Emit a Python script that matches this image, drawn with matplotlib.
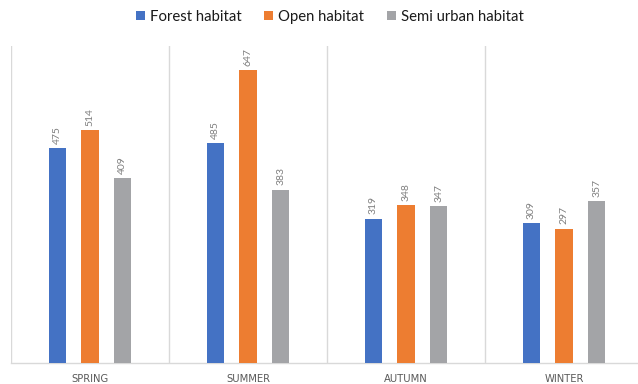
import matplotlib
matplotlib.use("Agg")
import matplotlib.pyplot as plt
from matplotlib.patches import Patch
import numpy as np

seasons = ["SPRING", "SUMMER", "AUTUMN", "WINTER"]
series_names = ["Forest habitat", "Open habitat", "Semi urban habitat"]
forest = [475, 485, 319, 309]
open_hab = [514, 647, 348, 297]
semi_urban = [409, 383, 347, 357]

colors = ["#4472C4", "#ED7D31", "#A3A4A7"]
grid_color = "#D9D9D9"
label_color = "#595959"

plt.rcParams["font.family"] = ["Lato", "DejaVu Sans"]

fig = plt.figure(figsize=(6.38, 3.84), dpi=100)
ax = fig.add_axes([11 / 638, 21 / 384, 632 / 638, 317 / 384])

x = np.arange(len(seasons))
width = 0.108
offsets = [-0.206, 0.0, 0.206]
for vals, off, col in zip([forest, open_hab, semi_urban], offsets, colors):
    bars = ax.bar(x + off, vals, width=width, color=col, zorder=3)
    for b, v in zip(bars, vals):
        ax.text(b.get_x() + b.get_width() / 2, v + 9, f"{v}",
                rotation=90, ha="center", va="bottom",
                fontsize=7.5, color="#7F7F7F")

ax.set_xlim(-0.5, len(seasons) - 0.5)
ax.set_ylim(0, 700)

# category separators
for b in np.arange(-0.5, len(seasons) + 0.5, 1.0):
    ax.axvline(b, color=grid_color, lw=1.0, zorder=1)

for s in ["top", "right", "left"]:
    ax.spines[s].set_visible(False)
ax.spines["bottom"].set_color(grid_color)
ax.spines["bottom"].set_linewidth(1.0)

ax.set_yticks([])
ax.set_xticks(x)
ax.set_xticklabels(seasons, color=label_color,
                   fontdict={"family": ["DejaVu Sans"], "size": 7.2})
ax.tick_params(axis="x", length=0, pad=8)

handles = [Patch(facecolor=c, edgecolor="none") for c in colors]
fig.legend(handles, series_names, loc="center", bbox_to_anchor=(330 / 638, 1 - 17 / 384),
           ncol=3, frameon=False, handlelength=0.6, handleheight=0.6,
           handletextpad=0.35, columnspacing=1.5, labelcolor="#1A1A1A",
           prop={"family": ["Lato", "DejaVu Sans"], "size": 10.7})

fig.savefig("out.png", dpi=100)
